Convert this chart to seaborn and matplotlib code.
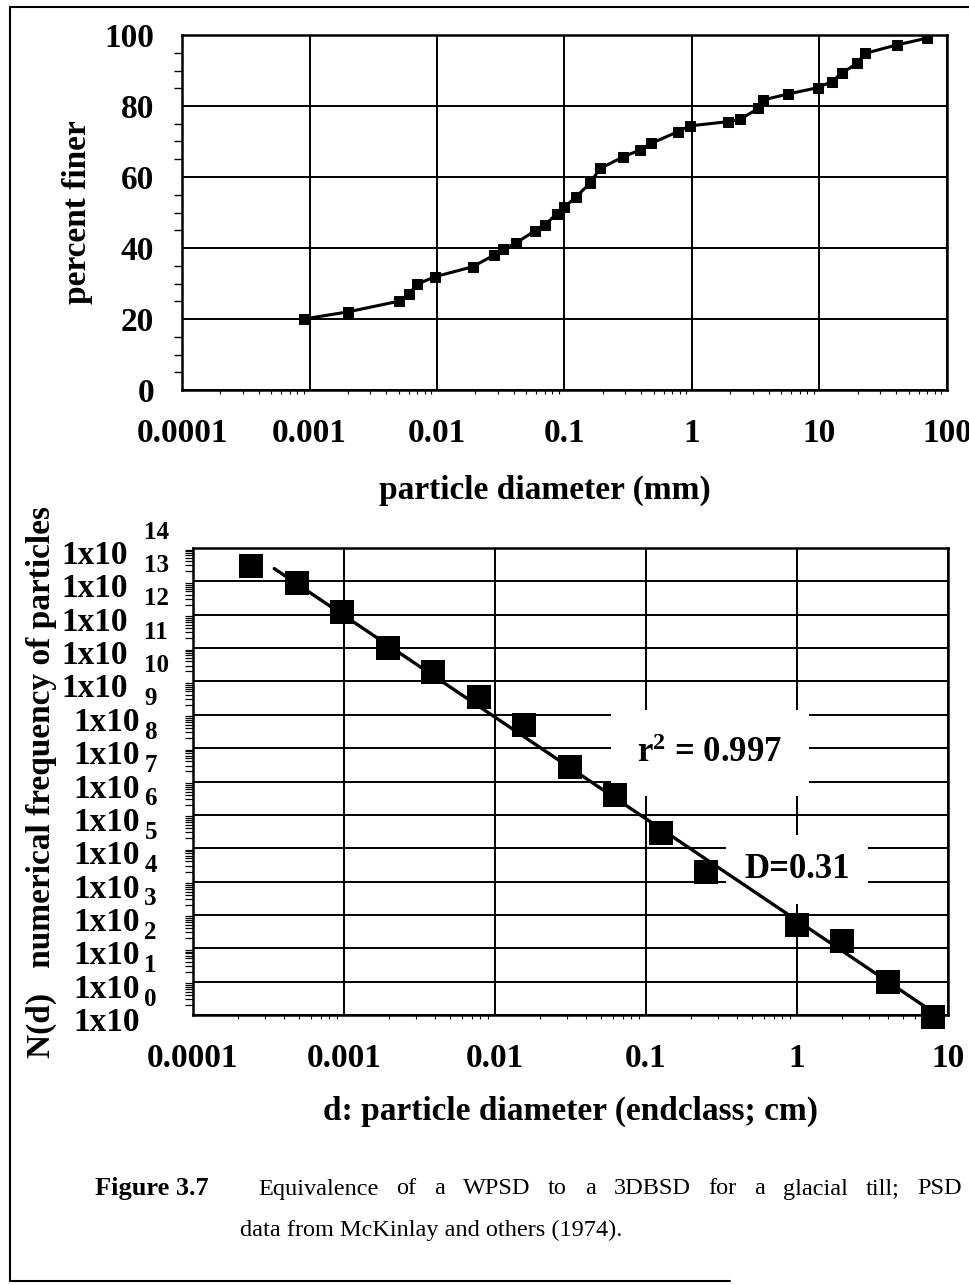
import numpy as np
import matplotlib
matplotlib.use("Agg")
import matplotlib.pyplot as plt
import matplotlib.transforms as mtrans
from matplotlib.lines import Line2D
from matplotlib.ticker import MultipleLocator, LogLocator, NullFormatter
import pandas as pd
import seaborn as sns

# ---------------- data ----------------
# Top panel: cumulative particle-size distribution (percent finer vs diameter, mm)
psd_diameter_mm = [0.0009, 0.002, 0.005, 0.006, 0.007, 0.0096, 0.019, 0.028, 0.033,
                   0.042, 0.059, 0.070, 0.087, 0.10, 0.124, 0.158, 0.19, 0.29, 0.39,
                   0.48, 0.78, 0.96, 1.93, 2.38, 3.3, 3.6, 5.7, 9.8, 12.5, 14.9, 19.6,
                   22.7, 40.3, 69.5]
psd_percent_finer = [20, 22, 25, 27, 29.8, 31.9, 34.7, 38, 39.6, 41.5, 44.9, 46.5, 49.6,
                     51.5, 54.5, 58.2, 62.4, 65.7, 67.6, 69.5, 72.8, 74.4, 75.6, 76.2,
                     79.3, 81.7, 83.4, 85.2, 86.9, 89.2, 92.0, 94.8, 97.2, 99.1]
top_xticks = [0.0001, 0.001, 0.01, 0.1, 1, 10, 100]
top_xticklabels = ["0.0001", "0.001", "0.01", "0.1", "1", "10", "100"]
top_yticks = [0, 20, 40, 60, 80, 100]

# Bottom panel: numerical frequency N(d) vs endclass diameter (cm)
endclass_cm = [0.000244, 0.000488, 0.000977, 0.00195, 0.0039, 0.0078, 0.0156, 0.03125,
               0.0625, 0.125, 0.25, 1, 2, 4, 8]
n_particles = [2.9e13, 8.7e12, 1.23e12, 9.8e10, 1.95e10, 3.5e9, 4.9e8, 2.75e7,
               3.9e6, 2.8e5, 2.0e4, 500, 160, 10, 0.9]
bot_xticks = [0.0001, 0.001, 0.01, 0.1, 1, 10]
bot_xticklabels = ["0.0001", "0.001", "0.01", "0.1", "1", "10"]
bot_yexponents = list(range(0, 15))
r2_text = "0.997"
d_text = "D=0.31"

caption_label = "Figure 3.7"
caption_line1 = "Equivalence of a WPSD to a 3DBSD for a glacial till;  PSD"
caption_line2 = "data from McKinlay and others (1974)."

# ---------------- style ----------------
sns.set_theme(style="white")
plt.rcParams["font.family"] = ["Liberation Serif", "DejaVu Serif"]
plt.rcParams["mathtext.fontset"] = "custom"
plt.rcParams["mathtext.rm"] = "Liberation Serif"
plt.rcParams["mathtext.bf"] = "Liberation Serif:bold"
plt.rcParams["mathtext.it"] = "Liberation Serif:italic"

W, H = 970, 1285
fig = plt.figure(figsize=(W / 100, H / 100), dpi=100)
fig.patch.set_facecolor("white")

ax1 = fig.add_axes([182 / W, 1 - 390 / H, 765 / W, 355 / H])
ax2 = fig.add_axes([193 / W, 1 - 1015 / H, 755 / W, 467 / H])

LABEL_FS = 24
TICK_FS = 24

# ---------------- top panel ----------------
df1 = pd.DataFrame({"d": psd_diameter_mm, "p": psd_percent_finer})
sns.lineplot(data=df1, x="d", y="p", ax=ax1, color="black", linewidth=2.2,
             marker="s", markersize=7.8, markeredgecolor="black",
             markerfacecolor="black", zorder=4)
ax1.set_xscale("log")
ax1.set_xlim(1e-4, 1e2)
ax1.set_ylim(0, 100)
ax1.set_xticks(top_xticks)
ax1.set_xticklabels(top_xticklabels)
ax1.set_yticks(top_yticks)
ax1.yaxis.set_minor_locator(MultipleLocator(5))
ax1.xaxis.set_minor_locator(LogLocator(base=10, subs=np.arange(2, 10) * 1.0, numticks=100))
ax1.xaxis.set_minor_formatter(NullFormatter())
ax1.grid(True, which="major", color="black", linewidth=1.4)
ax1.tick_params(axis="both", which="major", direction="out", length=14, width=1.3,
                color="black", labelsize=TICK_FS, pad=6, labelcolor="black")
ax1.tick_params(axis="y", which="minor", direction="out", length=6, width=1.0, color="black", left=True)
ax1.tick_params(axis="x", which="minor", direction="out", length=3, width=0.8, color="black", bottom=True)
for s in ax1.spines.values():
    s.set_color("black")
    s.set_linewidth(1.8)
for lab in ax1.get_xticklabels() + ax1.get_yticklabels():
    lab.set_fontweight("bold")
ax1.set_xlabel("particle diameter (mm)", fontsize=LABEL_FS, fontweight="bold", color="black")
ax1.set_ylabel("percent finer", fontsize=LABEL_FS, fontweight="bold", color="black")
ax1.xaxis.set_label_coords(0.4745, -0.240)
ax1.yaxis.set_label_coords(-0.116, 0.5)

# ---------------- bottom panel ----------------
df2 = pd.DataFrame({"d": endclass_cm, "N": n_particles})
logd = np.log10(df2["d"].to_numpy())
logN = np.log10(df2["N"].to_numpy())
slope, intercept = np.polyfit(logd, logN, 1)
fit_start = np.sqrt(endclass_cm[0] * endclass_cm[1])
fit_end = bot_xticks[-1]
fit_x = np.logspace(np.log10(fit_start), np.log10(fit_end), 60)
fit_y = 10 ** (intercept + slope * np.log10(fit_x))
sns.lineplot(x=fit_x, y=fit_y, ax=ax2, color="black", linewidth=2.4, zorder=4)
sns.scatterplot(data=df2, x="d", y="N", ax=ax2, marker="s", s=280, color="black",
                edgecolor="black", linewidth=0, zorder=5, clip_on=False)
ax2.set_xscale("log")
ax2.set_yscale("log")
ax2.set_xlim(1e-4, 1e1)
ax2.set_ylim(1e0, 1e14)
ax2.set_xticks(bot_xticks)
ax2.set_xticklabels(bot_xticklabels)
ax2.set_yticks([10.0 ** n for n in bot_yexponents])
ax2.set_yticklabels(["1x10" for _ in bot_yexponents])
ax2.xaxis.set_minor_locator(LogLocator(base=10, subs=np.arange(2, 10) * 1.0, numticks=100))
ax2.yaxis.set_minor_locator(LogLocator(base=10, subs=np.arange(2, 10) * 1.0, numticks=200))
ax2.xaxis.set_minor_formatter(NullFormatter())
ax2.yaxis.set_minor_formatter(NullFormatter())
ax2.grid(True, which="major", color="black", linewidth=1.4)
ax2.tick_params(axis="x", which="major", direction="out", length=12, width=1.3,
                color="black", labelsize=TICK_FS, pad=8, labelcolor="black")
ax2.tick_params(axis="y", which="major", direction="out", length=14, width=1.3,
                color="black", labelsize=TICK_FS, pad=24, labelcolor="black")
ax2.tick_params(axis="y", which="minor", direction="out", length=6, width=0.9, color="black", left=True)
ax2.tick_params(axis="x", which="minor", direction="out", length=3, width=0.8, color="black", bottom=True)
for s in ax2.spines.values():
    s.set_color("black")
    s.set_linewidth(1.8)
for lab in ax2.get_xticklabels():
    lab.set_fontweight("bold")
shift = mtrans.ScaledTranslation(-12 / 100, -4 / 100, fig.dpi_scale_trans)
small_shift = mtrans.ScaledTranslation(0, -4 / 100, fig.dpi_scale_trans)
for lab, n in zip(ax2.get_yticklabels(), bot_yexponents):
    lab.set_fontweight("bold")
    lab.set_transform(lab.get_transform() + (shift if n >= 10 else small_shift))
# exponents, raised high as in the original
for n in bot_yexponents:
    ax2.annotate(str(n), xy=(0, 10.0 ** n), xycoords=ax2.get_yaxis_transform(),
                 xytext=(-35, 11.5), textcoords="offset points", ha="left", va="center",
                 fontsize=18, fontweight="bold", color="black", annotation_clip=False)

ax2.set_xlabel("d: particle diameter (endclass; cm)", fontsize=LABEL_FS, fontweight="bold", color="black")
ax2.set_ylabel("N(d)   numerical frequency of particles", fontsize=LABEL_FS, fontweight="bold", color="black")
ax2.xaxis.set_label_coords(0.5, -0.174)
ax2.yaxis.set_label_coords(-0.180, 0.5)

ax2.text(0.265, 10 ** 7.85, r"$\mathbf{r}^{\mathbf{2}}$ = " + r2_text, fontsize=25, fontweight="bold",
         ha="center", va="center", color="black", zorder=3,
         bbox=dict(facecolor="white", edgecolor="none", pad=19))
ax2.text(1.0, 10 ** 4.35, d_text, fontsize=25, fontweight="bold",
         ha="center", va="center", color="black", zorder=3,
         bbox=dict(facecolor="white", edgecolor="none", pad=13))

# ---------------- caption ----------------
CAP_FS = 17.5
fig.text(95 / W, 1 - 1189 / H, caption_label, fontsize=19, fontweight="bold",
         ha="left", va="center", color="black")
# first caption line is justified between x=258 and x=962 px
fig.canvas.draw()
renderer = fig.canvas.get_renderer()
words = caption_line1.split()
word_texts = [fig.text(0, 1 - 1189 / H, w, fontsize=CAP_FS, ha="left", va="center", color="black")
              for w in words]
widths = [t.get_window_extent(renderer).width for t in word_texts]
line_left, line_right = 258, 962
gap = (line_right - line_left - sum(widths)) / (len(words) - 1)
xpos = line_left
for t, wdt in zip(word_texts, widths):
    t.set_x(xpos / W)
    xpos += wdt + gap
fig.text(240 / W, 1 - 1230 / H, caption_line2,
         fontsize=CAP_FS, ha="left", va="center", color="black")

# page frame (left, top, bottom)
fig.add_artist(Line2D([10 / W, 10 / W], [1 - 7 / H, 1 - 1281 / H], transform=fig.transFigure,
                      color="black", linewidth=1.5))
fig.add_artist(Line2D([10 / W, 1.0], [1 - 7 / H, 1 - 7 / H], transform=fig.transFigure,
                      color="black", linewidth=1.5))
fig.add_artist(Line2D([10 / W, 730 / W], [1 - 1281 / H, 1 - 1281 / H], transform=fig.transFigure,
                      color="black", linewidth=1.5))

fig.savefig("out.png", dpi=100, facecolor="white")
